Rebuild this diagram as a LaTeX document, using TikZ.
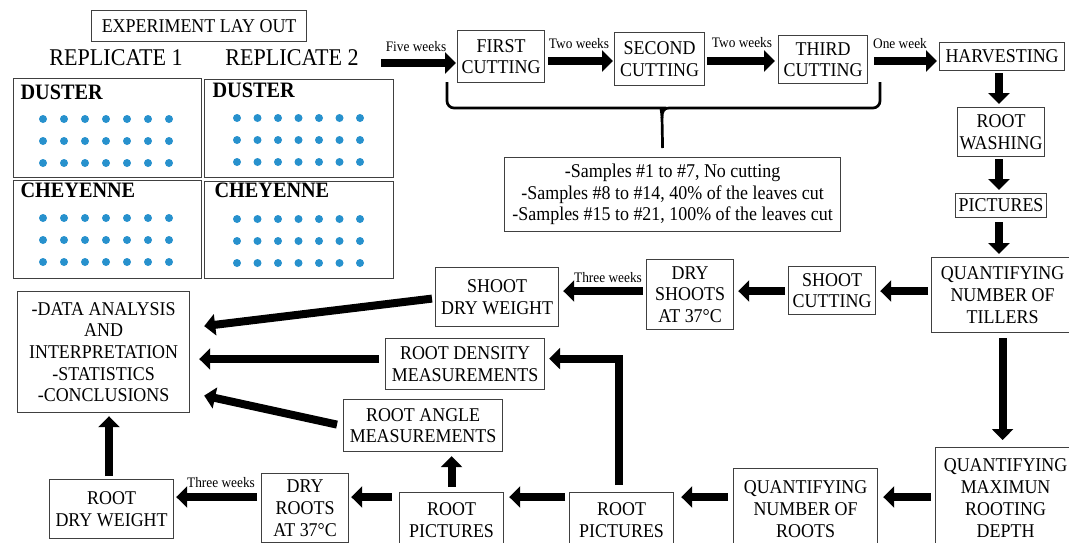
\documentclass[tikz,border=0pt]{standalone}
\usepackage{fontspec}
\setmainfont{Liberation Serif}[FakeStretch=0.92]
\usepackage{tikz}
\usetikzlibrary{arrows.meta}
\usetikzlibrary{calc}

\definecolor{dotblue}{RGB}{39,145,205}
\newcommand{\boxfont}{\fontsize{19.5}{21.7}\selectfont}
\newcommand{\weekfont}{\fontsize{14.5}{16}\selectfont}

\begin{document}
\begin{tikzpicture}[x=1pt, y=-1pt,
		box/.style={draw=black!75, line width=1.2pt, align=center, inner sep=0pt, anchor=north west, font=\boxfont},
		field/.style={draw=black!75, line width=1.2pt, anchor=north west, inner sep=0pt},
		flow/.style={line width=8pt, -{Triangle[width=21pt,length=11pt]}},
		weeks/.style={anchor=base, font=\weekfont},
		crop/.style={anchor=base west, font=\fontsize{22}{24}\selectfont\bfseries}]
			\useasboundingbox (0,0) rectangle (1069,542);
			\clip (0,0) rectangle (1069,542);
			% experiment lay out
			\node[box, minimum width=215pt, minimum height=31pt] (layout) at (91,10) {EXPERIMENT LAY OUT};
			\node[anchor=base, font=\fontsize{24}{26}\selectfont] (rep1) at (116,65) {REPLICATE 1};
			\node[anchor=base, font=\fontsize{24}{26}\selectfont] (rep2) at (292,65) {REPLICATE 2};
			\node[field, minimum width=188pt, minimum height=99pt] (d1) at (13,78) {};
			\node[field, minimum width=189pt, minimum height=98pt] (d2) at (204,79) {};
			\node[field, minimum width=188pt, minimum height=98pt] (c1) at (13,180) {};
			\node[field, minimum width=189pt, minimum height=97pt] (c2) at (204,181) {};
			\node[crop] (d1lab) at ($(d1.north west)+(4,21)$) {DUSTER};
			\node[crop] (d2lab) at ($(d2.north west)+(5,18)$) {DUSTER};
			\node[crop] (c1lab) at ($(c1.north west)+(4,17)$) {CHEYENNE};
			\node[crop] (c2lab) at ($(c2.north west)+(7,16)$) {CHEYENNE};
			\foreach \i in {0,...,6}
				\foreach \j in {0,...,2} {
					\fill[dotblue] (43+21*\i, 119+22*\j) circle (4pt);
					\fill[dotblue] (237+20.5*\i, 118+22*\j) circle (4pt);
					\fill[dotblue] (43+21*\i, 218+22*\j) circle (4pt);
					\fill[dotblue] (237+20.5*\i, 219+22*\j) circle (4pt);
				}
			% cutting sequence
			\node[box, minimum width=87pt, minimum height=52pt] (first) at (457,30) {FIRST\\CUTTING};
			\node[box, minimum width=90pt, minimum height=53pt] (second) at (614,32) {SECOND\\CUTTING};
			\node[box, minimum width=89pt, minimum height=48pt] (third) at (778,35) {THIRD\\CUTTING};
			\node[box, minimum width=125pt, minimum height=28pt] (harvest) at (939,42) {HARVESTING};
			\node[box, minimum width=87pt, minimum height=49pt] (washing) at (957,107) {ROOT\\WASHING};
			\node[box, minimum width=91pt, minimum height=24pt] (pictures) at (955,193) {PICTURES};
			\node[box, minimum width=336pt, minimum height=74pt] (samples) at (504,157) {-Samples \#1 to \#7, No cutting\\-Samples \#8 to \#14, 40\% of the leaves cut\\-Samples \#15 to \#21, 100\% of the leaves cut};
			% shoots
			\node[box, minimum width=142pt, minimum height=75pt] (tillers) at (931,257) {QUANTIFYING\\NUMBER OF\\TILLERS};
			\node[box, minimum width=87pt, minimum height=48pt] (shootcut) at (788,266) {SHOOT\\CUTTING};
			\node[box, minimum width=87pt, minimum height=70pt] (dryshoots) at (646,259) {DRY\\SHOOTS\\AT 37°C};
			\node[box, minimum width=123pt, minimum height=59pt] (shootdry) at (435,267) {SHOOT\\DRY WEIGHT};
			% analysis
			\node[box, minimum width=172pt, minimum height=121pt] (data) at (17,291) {-DATA ANALYSIS\\AND\\INTERPRETATION\\-STATISTICS\\-CONCLUSIONS};
			\node[box, minimum width=159pt, minimum height=51pt] (density) at (385,338) {ROOT DENSITY\\MEASUREMENTS};
			\node[box, minimum width=159pt, minimum height=52pt] (angle) at (343,399) {ROOT ANGLE\\MEASUREMENTS};
			% roots
			\node[box, minimum width=140pt, minimum height=101pt] (maximun) at (935,447) {QUANTIFYING\\MAXIMUN\\ROOTING\\DEPTH};
			\node[box, minimum width=144pt, minimum height=81pt] (roots) at (733,468) {QUANTIFYING\\NUMBER OF\\ROOTS};
			\node[box, minimum width=104pt, minimum height=55pt] (picsR) at (569,492) {ROOT\\PICTURES};
			\node[box, minimum width=104pt, minimum height=55pt] (picsL) at (399,492) {ROOT\\PICTURES};
			\node[box, minimum width=87pt, minimum height=69pt] (dryroots) at (261,473) {DRY\\ROOTS\\AT 37°C};
			\node[box, minimum width=124pt, minimum height=59pt] (rootdry) at (49,479) {ROOT\\DRY WEIGHT};
			% week labels
			\node[weeks] (w5) at (416,51) {Five weeks};
			\node[weeks] (w2a) at (579,48) {Two weeks};
			\node[weeks] (w2b) at (742,47) {Two weeks};
			\node[weeks] (w1) at (900,48) {One week};
			\node[weeks] (w3a) at (608,282) {Three weeks};
			\node[weeks] (w3b) at (221,487) {Three weeks};
			% levels of the arrows
			\coordinate (start) at (381,63);
			\coordinate (top) at (0,61);
			\coordinate (mid) at (0,291);
			\coordinate (dl) at (0,359);
			\coordinate (low) at (0,497);
			\coordinate (col) at (999,0);
			\coordinate (col2) at (109,0);
			\coordinate (col3) at (619,0);
			% arrows
			\draw[flow, shorten >=1pt] (start) -- (start -| first.west);
			\draw[flow, shorten <=3pt, shorten >=1pt] (first.east |- top) -- (second.west |- top);
			\draw[flow, shorten <=2pt, shorten >=3pt] (second.east |- top) -- (third.west |- top);
			\draw[flow, shorten <=6pt, shorten >=2pt] (third.east |- top) -- (harvest.west |- top);
			\draw[flow, shorten <=2pt, shorten >=3pt] (col |- harvest.south) -- (col |- washing.north);
			\draw[flow, shorten <=2pt, shorten >=3pt] (col |- washing.south) -- (col |- pictures.north);
			\draw[flow, shorten <=4pt, shorten >=3pt] (col |- pictures.south) -- (col |- tillers.north);
			\draw[flow, shorten <=5pt, shorten >=7pt] (tillers.south) -- (tillers.south |- maximun.north);
			\draw[flow, shorten <=3pt, shorten >=4pt] (tillers.west |- mid) -- (shootcut.east |- mid);
			\draw[flow, shorten <=3pt, shorten >=4pt] (shootcut.west |- mid) -- (dryshoots.east |- mid);
			\draw[flow, shorten <=3pt, shorten >=4pt] (dryshoots.west |- mid) -- (shootdry.east |- mid);
			\draw[flow] ($(shootdry.west)+(-3,1.5)$) -- ($(data.east)+(14,-26)$);
			\draw[flow, shorten <=6pt, shorten >=9pt] (density.west |- dl) -- (data.east |- dl);
			\draw[flow] ($(angle.west)+(-6,-1)$) -- ($(data.east)+(14,43.5)$);
			\draw[flow, shorten <=3pt, shorten >=3pt] (col2 |- rootdry.north) -- (col2 |- data.south);
			\draw[flow, shorten <=4pt, shorten >=5pt] (maximun.west |- low) -- (roots.east |- low);
			\draw[flow, shorten <=5pt, shorten >=7pt] (roots.west |- low) -- (picsR.east |- low);
			\draw[flow, shorten <=4pt, shorten >=5pt] (picsR.west |- low) -- (picsL.east |- low);
			\draw[flow, shorten <=7pt, shorten >=2pt] (picsL.west |- low) -- (dryroots.east |- low);
			\draw[flow, shorten <=4pt, shorten >=2pt] (dryroots.west |- low) -- (rootdry.east |- low);
			\draw[flow, shorten <=5pt, shorten >=4pt] (picsL.north) -- (picsL.north |- angle.south);
			\draw[flow, shorten <=7pt, shorten >=4pt] (col3 |- picsR.north) |- ($(density.east)+(0,-5.5)$);
			% brace
			\draw[line width=2.7pt, rounded corners=7pt] (447,82) -- (447,108) -- (655,108) [sharp corners] .. controls (660,108) and (662,111) .. (662,118) .. controls (662,111) and (664,108) .. (669,108) [rounded corners=7pt] -- (880,108) -- (880,82);
			\draw[line width=2.7pt] (662,117) -- ($(samples.north)+(-10,-9)$);
		\end{tikzpicture}
\end{document}
